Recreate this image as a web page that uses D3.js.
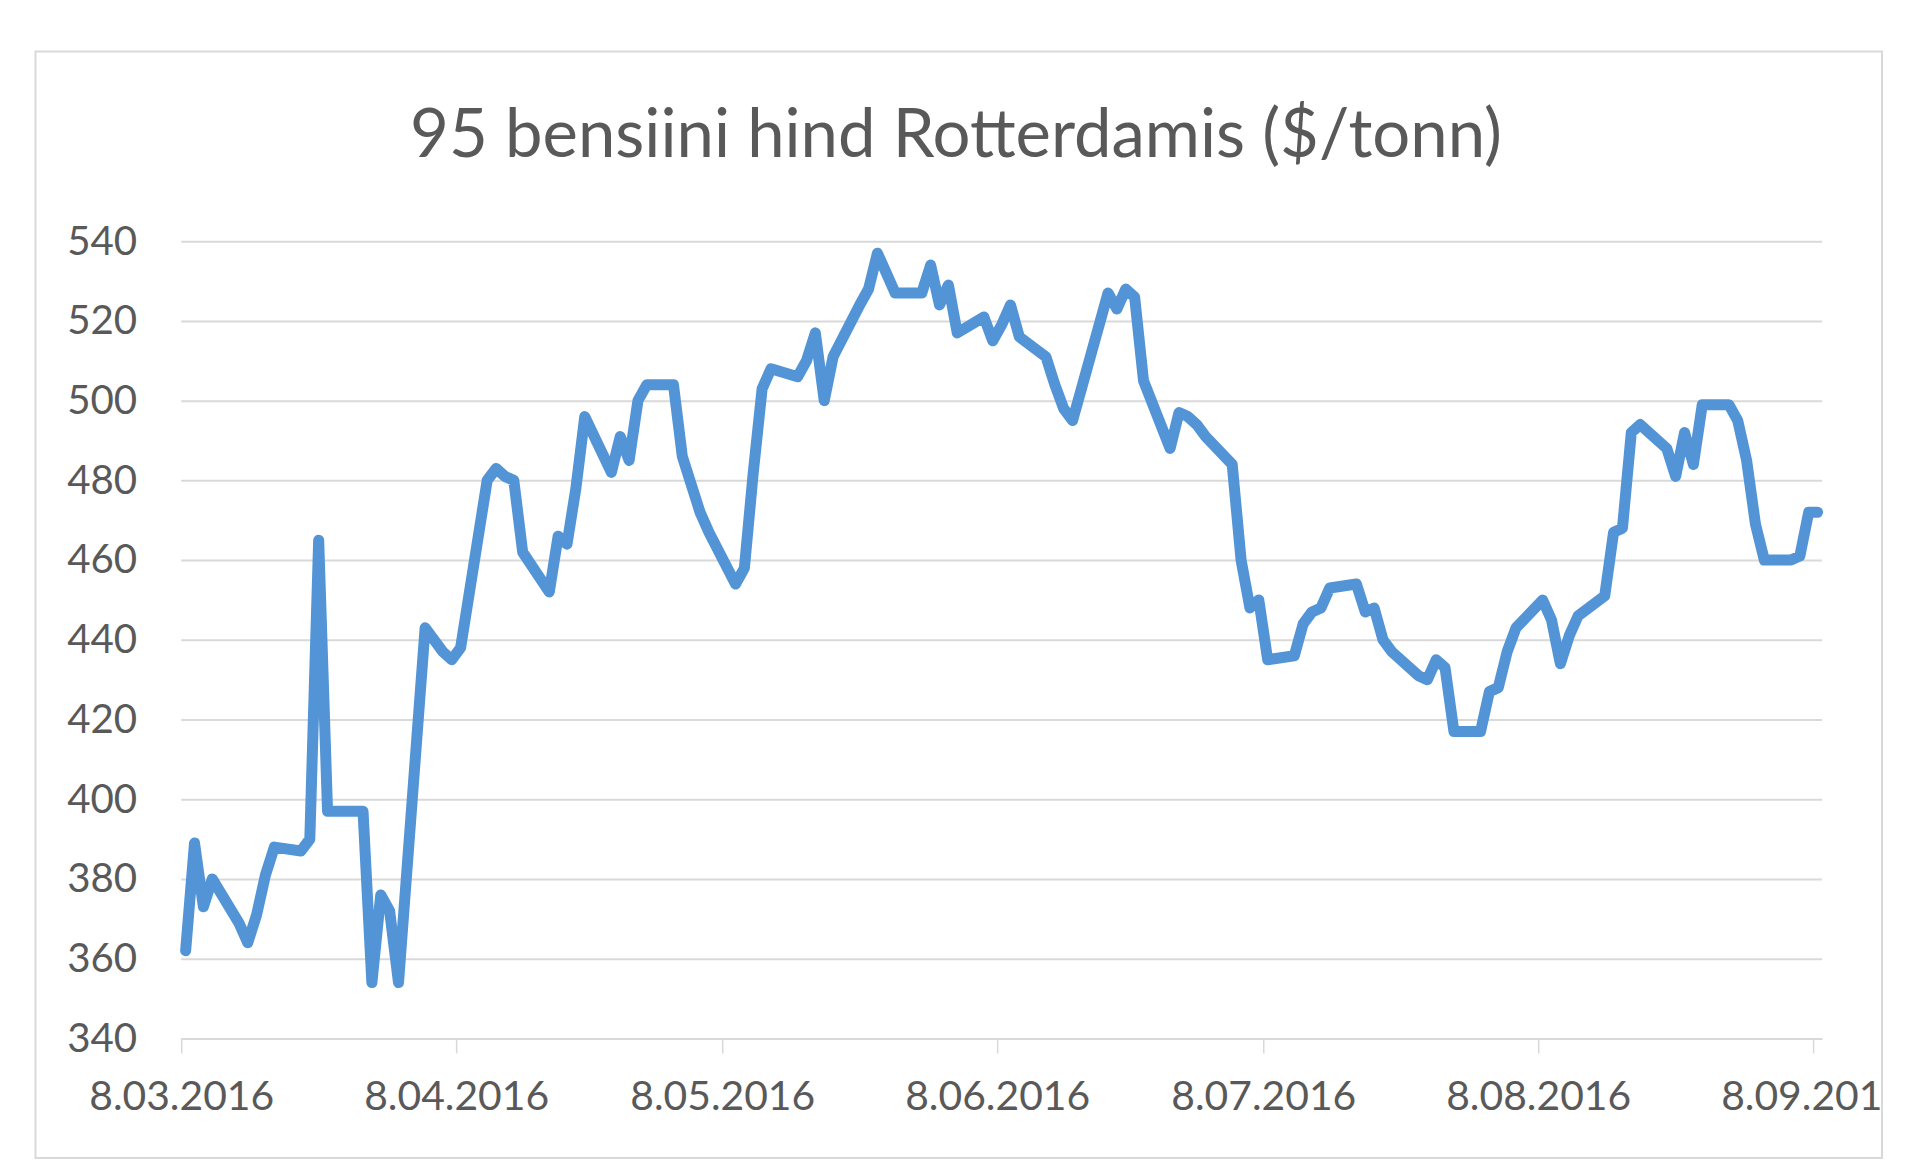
<!DOCTYPE html>
<html>
<head>
<meta charset="utf-8">
<script src="https://cdn.jsdelivr.net/npm/d3@7"></script>
<style>
  body { margin: 0; background: #ffffff; }
  svg text { font-family: Lato, "Open Sans", "DejaVu Sans", sans-serif; }
</style>
</head>
<body>
<svg id="chart" width="1920" height="1165"></svg>
<script>
// ---------------- DATA ----------------
const chartTitle = "95 bensiini hind Rotterdamis ($/tonn)";

const dates = [
  "2016-03-08","2016-03-09","2016-03-10","2016-03-11","2016-03-14","2016-03-15","2016-03-16","2016-03-17","2016-03-18",
  "2016-03-21","2016-03-22","2016-03-23","2016-03-24","2016-03-25","2016-03-28","2016-03-29","2016-03-30","2016-03-31",
  "2016-04-01","2016-04-04","2016-04-05","2016-04-06","2016-04-07","2016-04-08","2016-04-11","2016-04-12","2016-04-13",
  "2016-04-14","2016-04-15","2016-04-18","2016-04-19","2016-04-20","2016-04-21","2016-04-22","2016-04-25","2016-04-26",
  "2016-04-27","2016-04-28","2016-04-29","2016-05-02","2016-05-03","2016-05-04","2016-05-05","2016-05-06","2016-05-09",
  "2016-05-10","2016-05-11","2016-05-12","2016-05-13","2016-05-16","2016-05-17","2016-05-18","2016-05-19","2016-05-20",
  "2016-05-23","2016-05-24","2016-05-25","2016-05-26","2016-05-27","2016-05-30","2016-05-31","2016-06-01","2016-06-02",
  "2016-06-03","2016-06-06","2016-06-07","2016-06-08","2016-06-09","2016-06-10","2016-06-13","2016-06-14","2016-06-15",
  "2016-06-16","2016-06-17","2016-06-20","2016-06-21","2016-06-22","2016-06-23","2016-06-24","2016-06-27","2016-06-28",
  "2016-06-29","2016-06-30","2016-07-01","2016-07-04","2016-07-05","2016-07-06","2016-07-07","2016-07-08","2016-07-11",
  "2016-07-12","2016-07-13","2016-07-14","2016-07-15","2016-07-18","2016-07-19","2016-07-20","2016-07-21","2016-07-22",
  "2016-07-25","2016-07-26","2016-07-27","2016-07-28","2016-07-29","2016-08-01","2016-08-02","2016-08-03","2016-08-04",
  "2016-08-05","2016-08-08","2016-08-09","2016-08-10","2016-08-11","2016-08-12","2016-08-15","2016-08-16","2016-08-17",
  "2016-08-18","2016-08-19","2016-08-22","2016-08-23","2016-08-24","2016-08-25","2016-08-26","2016-08-29","2016-08-30",
  "2016-08-31","2016-09-01","2016-09-02","2016-09-05","2016-09-06","2016-09-07","2016-09-08"
];

const prices = [
  362, 389, 373, 380, 369, 364, 371, 381, 388,
  387, 390, 465, 397, 397, 397, 354, 376, 372,
  354, 443, 440, 437, 435, 438, 480, 483, 481,
  480, 462, 452, 466, 464, 478, 496, 482, 491,
  485, 500, 504, 504, 486, 479, 472, 467, 454,
  458, 482, 503, 508, 506, 510, 517, 500, 511,
  524, 528, 537, 532, 527, 527, 534, 524, 529,
  517, 521, 515, 519, 524, 516, 511, 504, 498,
  495, 503, 527, 523, 528, 526, 505, 488, 497,
  496, 494, 491, 484, 460, 448, 450, 435, 436,
  444, 447, 448, 453, 454, 447, 448, 440, 437,
  431, 430, 435, 433, 417, 417, 427, 428, 437,
  443, 450, 445, 434, 441, 446, 451, 467, 468,
  492, 494, 488, 481, 492, 484, 499, 499, 495,
  485, 469, 460, 460, 461, 472, 472
];

const yTickValues = [340, 360, 380, 400, 420, 440, 460, 480, 500, 520, 540];
const xTickDates  = ["2016-03-08","2016-04-08","2016-05-08","2016-06-08","2016-07-08","2016-08-08","2016-09-08"];
const xTickLabels = ["8.03.2016","8.04.2016","8.05.2016","8.06.2016","8.07.2016","8.08.2016","8.09.2016"];

// ---------------- LAYOUT ----------------
const parse = d3.utcParse("%Y-%m-%d");
const plotLeft = 181.2, plotRight = 1822, plotTop = 241.2, plotBottom = 1038.4;
const textColor = "#595959", gridColor = "#d9d9d9", lineColor = "#5294d6";

const svg = d3.select("#chart");
svg.append("rect").attr("width", 1920).attr("height", 1165).attr("fill", "#ffffff");

// chart frame
svg.append("rect")
  .attr("x", 35.5).attr("y", 51.5).attr("width", 1846.5).attr("height", 1106.5)
  .attr("fill", "#ffffff").attr("stroke", gridColor).attr("stroke-width", 2);

svg.append("clipPath").attr("id", "frameClip")
  .append("rect").attr("x", 36).attr("y", 52).attr("width", 1845.5).attr("height", 1105.5);

// date axis: each day occupies one slot, ticks at slot start, points at slot centre
const x = d3.scaleUtc()
  .domain([parse("2016-03-08"), parse("2016-09-09")])
  .range([plotLeft, plotRight]);
const y = d3.scaleLinear().domain([340, 540]).range([plotBottom, plotTop]);

function fitSize(sample, baseSize, targetWidth) {
  const t = svg.append("text").attr("font-size", baseSize).text(sample);
  const w = t.node().getComputedTextLength();
  t.remove();
  return w > 0 ? baseSize * targetWidth / w : baseSize;
}

const titleSize = fitSize(chartTitle, 60, 1092);
const yLabelSize = fitSize("540", 40, 70);
const xLabelSize = fitSize("8.03.2016", 40, 185);

// title
svg.append("text")
  .attr("x", 956).attr("y", 157)
  .attr("text-anchor", "middle")
  .attr("font-size", titleSize)
  .attr("fill", textColor)
  .text(chartTitle);

// gridlines
const grid = svg.append("g")
  .attr("transform", `translate(${plotLeft},0)`)
  .call(d3.axisLeft(y).tickValues(yTickValues).tickSize(-(plotRight - plotLeft)).tickFormat(""));
grid.select(".domain").remove();
grid.selectAll(".tick line").attr("stroke", gridColor).attr("stroke-width", 2);

// y labels
const yAxis = svg.append("g")
  .attr("transform", `translate(${plotLeft},0)`)
  .call(d3.axisLeft(y).tickValues(yTickValues).tickSize(0).tickPadding(44).tickFormat(d3.format("d")));
yAxis.select(".domain").remove();
yAxis.selectAll("text")
  .attr("font-size", yLabelSize)
  .attr("font-family", "Lato, 'Open Sans', sans-serif")
  .attr("fill", textColor);

// x axis
const xWrap = svg.append("g").attr("clip-path", "url(#frameClip)");
const xAxis = xWrap.append("g")
  .attr("transform", `translate(0,${plotBottom})`)
  .call(d3.axisBottom(x)
    .tickValues(xTickDates.map(parse))
    .tickFormat((d, i) => xTickLabels[i])
    .tickSize(15).tickSizeOuter(0).tickPadding(28));
xAxis.select(".domain").attr("stroke", gridColor).attr("stroke-width", 2);
xAxis.selectAll(".tick line").attr("stroke", gridColor).attr("stroke-width", 1.5);
xAxis.selectAll("text")
  .attr("font-size", xLabelSize)
  .attr("font-family", "Lato, 'Open Sans', sans-serif")
  .attr("fill", textColor);

// line
const series = dates.map((d, i) => ({ date: d3.utcHour.offset(parse(d), 12), value: prices[i] }));
svg.append("path")
  .datum(series)
  .attr("fill", "none")
  .attr("stroke", lineColor)
  .attr("stroke-width", 11)
  .attr("stroke-linejoin", "round")
  .attr("stroke-linecap", "round")
  .attr("d", d3.line().x(d => x(d.date)).y(d => y(d.value)));
</script>
</body>
</html>
